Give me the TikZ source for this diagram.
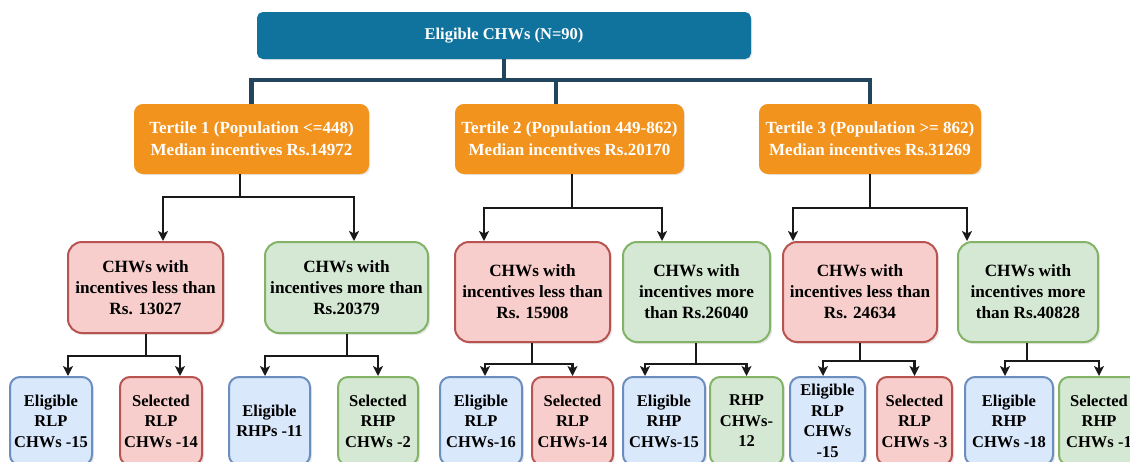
\documentclass[tikz,border=0pt]{standalone}
\usepackage{fontspec}
\setmainfont{Liberation Serif}
\usetikzlibrary{arrows.meta,shadows}
\definecolor{topblue}{HTML}{10739E}
\definecolor{orng}{HTML}{F2931E}
\definecolor{navy}{HTML}{23445D}
\definecolor{pinkf}{HTML}{F8CECC}
\definecolor{pinkd}{HTML}{B85450}
\definecolor{greenf}{HTML}{D5E8D4}
\definecolor{greend}{HTML}{82B366}
\definecolor{bluef}{HTML}{DAE8FC}
\definecolor{blued}{HTML}{6C8EBF}
\begin{document}
\begin{tikzpicture}[x=1pt,y=-1pt,
  box/.style={rectangle, align=center, inner sep=1pt, line width=2pt,
    drop shadow={opacity=0.18, shadow xshift=2pt, shadow yshift=-2pt}},
  topbox/.style={box, fill=topblue, draw=topblue, rounded corners=5pt, text=white,
    font=\fontsize{16.5}{20}\selectfont\bfseries},
  tbox/.style={box, fill=orng, draw=orng, rounded corners=8pt, text=white,
    minimum height=68pt, font=\fontsize{17}{22}\selectfont\bfseries},
  midbox/.style={box, rounded corners=14pt, font=\fontsize{17.2}{21}\selectfont\bfseries},
  lowbox/.style={box, rounded corners=10pt, minimum height=88pt,
    font=\fontsize{16.5}{20.5}\selectfont\bfseries},
  pinkc/.style={fill=pinkf, draw=pinkd},
  greenc/.style={fill=greenf, draw=greend},
  bluec/.style={fill=bluef, draw=blued},
  tc/.style={draw=navy, line width=4.5pt},
  ln/.style={draw=black!90, line width=2.6pt},
  arr/.style={ln, -{Stealth[length=10pt,width=10pt,inset=2.5pt]}}
]
\clip (0,0) rectangle (1130,461);
\fill[white] (0,0) rectangle (1130,461);

% top
\node[topbox, minimum width=492pt, minimum height=45pt] (top) at (504,35.5) {Eligible CHWs (N=90)};

% tertiles
\node[tbox, minimum width=233pt] (t1) at (251.5,139) {Tertile 1 (Population <=448)\\Median incentives Rs.14972};
\node[tbox, minimum width=227pt] (t2) at (569.5,139) {Tertile 2 (Population 449-862)\\Median incentives Rs.20170};
\node[tbox, minimum width=220pt] (t3) at (870,139) {Tertile 3 (Population >= 862)\\Median incentives Rs.31269};

% level 2
\node[midbox, pinkc, minimum width=155pt, minimum height=91pt] (l1) at (145.5,287.5) {CHWs with\\incentives less than\\Rs. 13027};
\node[midbox, greenc, minimum width=163pt, minimum height=91pt] (g1) at (346.5,287.5) {CHWs with\\incentives more than\\Rs.20379};
\node[midbox, pinkc, minimum width=155pt, minimum height=100pt] (l2) at (532.5,292) {CHWs with\\incentives less than\\Rs. 15908};
\node[midbox, greenc, minimum width=147pt, minimum height=100pt] (g2) at (696.5,292) {CHWs with\\incentives more\\than Rs.26040};
\node[midbox, pinkc, minimum width=154pt, minimum height=100pt] (l3) at (860,292) {CHWs with\\incentives less than\\Rs. 24634};
\node[midbox, greenc, minimum width=140pt, minimum height=100pt] (g3) at (1028,292) {CHWs with\\incentives more\\than Rs.40828};

% level 3
\node[lowbox, bluec, minimum width=82pt] (e1) at (51,421) {Eligible\\RLP\\CHWs -15};
\node[lowbox, pinkc, minimum width=82pt] (s1) at (161,421) {Selected\\RLP\\CHWs -14};
\node[lowbox, bluec, minimum width=81pt] (e1b) at (269.5,421) {Eligible\\RHPs -11};
\node[lowbox, greenc, minimum width=80pt] (s1b) at (378,421) {Selected\\RHP\\CHWs -2};
\node[lowbox, bluec, minimum width=82pt] (e2) at (481,421) {Eligible\\RLP\\CHWs-16};
\node[lowbox, pinkc, minimum width=81pt] (s2) at (572.5,421) {Selected\\RLP\\CHWs-14};
\node[lowbox, bluec, minimum width=82pt] (e2b) at (664,421) {Eligible\\RHP\\CHWs-15};
\node[lowbox, greenc, minimum width=73pt] (s2b) at (746.5,421) {RHP\\CHWs-\\12};
\node[lowbox, bluec, minimum width=75pt] (e3) at (827.5,421) {Eligible\\RLP\\CHWs\\-15};
\node[lowbox, pinkc, minimum width=75pt] (s3) at (914.5,421) {Selected\\RLP\\CHWs -3};
\node[lowbox, bluec, minimum width=88pt] (e3b) at (1009,421) {Eligible\\RHP\\CHWs -18};
\node[lowbox, greenc, minimum width=80pt] (s3b) at (1099,421) {Selected\\RHP\\CHWs -1};

% top connectors
\coordinate (j0) at (504,80);
\draw[tc] (top.south) -- (j0);
\draw[tc] (t1.north) |- (j0);
\draw[tc] (t3.north) |- (j0);
\draw[tc] ([xshift=-13.5pt]t2.north) -- ([xshift=-13.5pt]t2.north |- j0);

% tertile forks
\draw[ln] ([xshift=-11.5pt]t1.south) -- ++(0,23) coordinate (f1);
\draw[arr] (f1) -| ([xshift=17.5pt]l1.north);
\draw[arr] (f1) -| ([xshift=7.5pt]g1.north);
\draw[ln] ([xshift=2.5pt]t2.south) -- ++(0,34) coordinate (f2);
\draw[arr] (f2) -| ([xshift=-48.5pt]l2.north);
\draw[arr] (f2) -| ([xshift=-34.5pt]g2.north);
\draw[ln] (t3.south) -- ++(0,34) coordinate (f3);
\draw[arr] (f3) -| ([xshift=-67pt]l3.north);
\draw[arr] (f3) -| ([xshift=-61pt]g3.north);

% level 2 forks
\draw[ln] ([xshift=0.5pt]l1.south) -- ++(0,22) coordinate (h1);
\draw[arr] (h1) -| ([xshift=17pt]e1.north);
\draw[arr] (h1) -| ([xshift=19pt]s1.north);
\draw[ln] ([xshift=0.5pt]g1.south) -- ++(0,22) coordinate (h2);
\draw[arr] (h2) -| ([xshift=-4.5pt]e1b.north);
\draw[arr] (h2) -| (s1b.north);
\draw[ln] ([xshift=-0.5pt]l2.south) -- ++(0,21) coordinate (h3);
\draw[arr] (h3) -| ([xshift=4pt]e2.north);
\draw[arr] (h3) -| (s2.north);
\draw[ln] ([xshift=-0.5pt]g2.south) -- ++(0,21) coordinate (h4);
\draw[arr] (h4) -| ([xshift=-19pt]e2b.north);
\draw[arr] (h4) -| (s2b.north);
\draw[ln] (l3.south) -- ++(0,18) coordinate (h5);
\draw[arr] (h5) -| ([xshift=-4.5pt]e3.north);
\draw[arr] (h5) -| (s3.north);
\draw[ln] ([xshift=-1pt]g3.south) -- ++(0,18) coordinate (h6);
\draw[arr] (h6) -| ([xshift=-4pt]e3b.north);
\draw[arr] (h6) -| (s3b.north);
\end{tikzpicture}
\end{document}
